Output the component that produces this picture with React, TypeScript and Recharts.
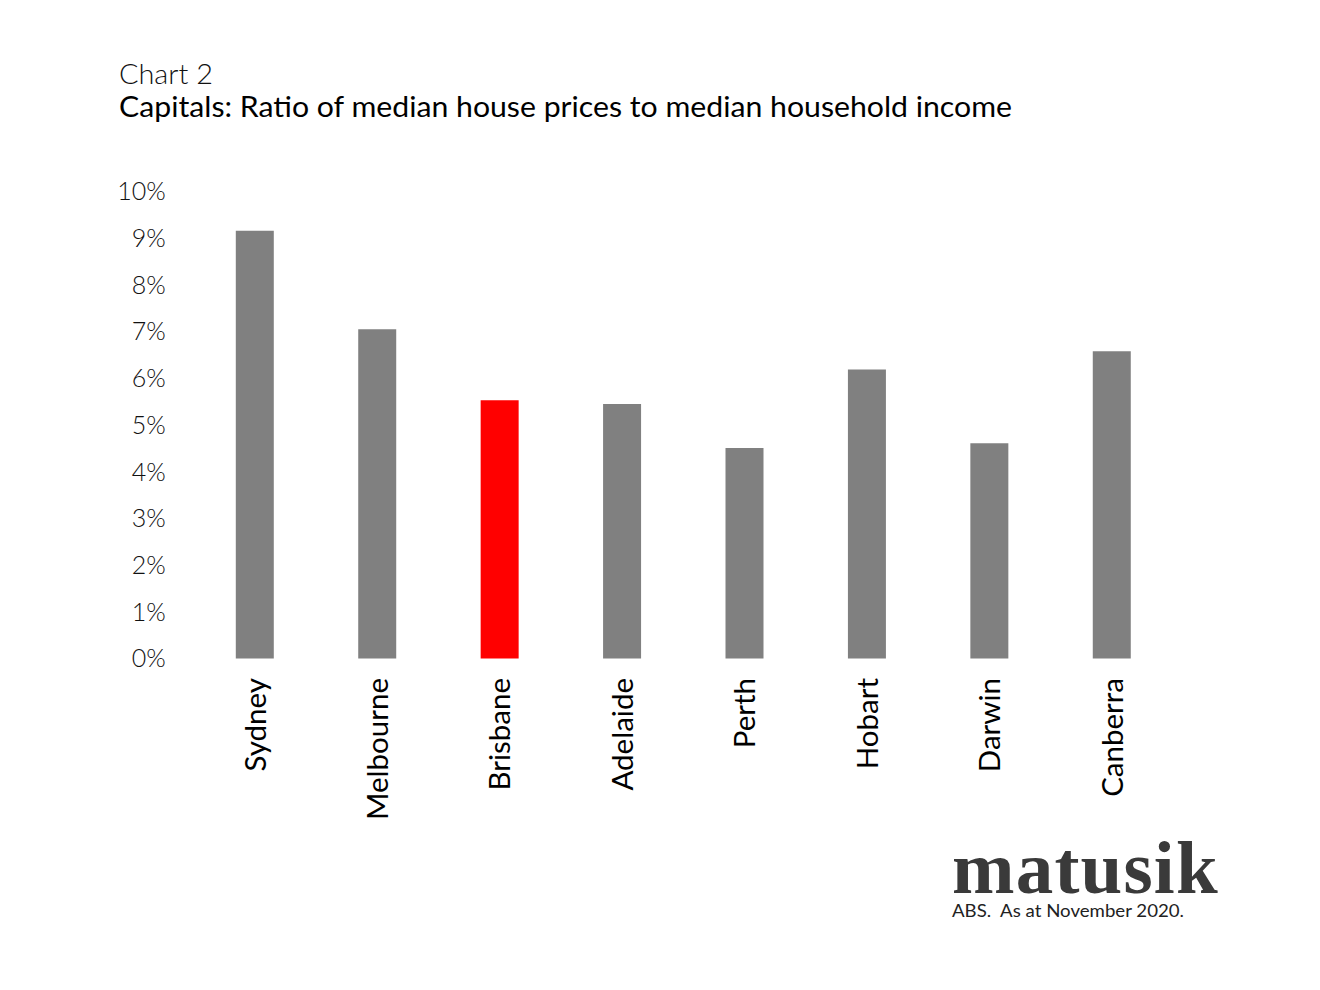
import React from "react";
import { BarChart, Bar, XAxis, YAxis, Cell } from "recharts";

const cities = ["Sydney", "Melbourne", "Brisbane", "Adelaide", "Perth", "Hobart", "Darwin", "Canberra"];
const ratios = [9.16, 7.05, 5.53, 5.45, 4.51, 6.19, 4.61, 6.58];
const highlightCity = "Brisbane";
const yTicks = [0, 1, 2, 3, 4, 5, 6, 7, 8, 9, 10];

const chartTitleSmall = "Chart 2";
const chartTitle = "Capitals: Ratio of median house prices to median household income";
const logoText = "matusik";
const sourceText = "ABS.  As at November 2020.";

const data = cities.map((c, i) => ({ city: c, value: ratios[i] }));

const FONT = "Lato, 'Open Sans', sans-serif";

const CityTick = (props: any) => {
  const { x, y, payload } = props;
  return (
    <text
      x={x}
      y={y}
      transform={`rotate(-90, ${x}, ${y})`}
      textAnchor="end"
      dy="0.36em"
      fontFamily={FONT}
      fontSize={29.5}
      fontWeight={400}
      fill="#000"
    >
      {payload.value}
    </text>
  );
};

export default function App() {
  return (
    <div style={{ position: "absolute", left: 0, top: 0, width: 1320, height: 990, background: "#fff" }}>
      <div style={{ position: "absolute", left: 0, top: 0 }}>
        <BarChart
          width={1320}
          height={990}
          data={data}
          margin={{ top: 191.5, right: 146.8, bottom: 181.5, left: 113.8 }}
          barCategoryGap={0}
        >
          <XAxis
            dataKey="city"
            axisLine={false}
            tickLine={false}
            tickSize={0}
            tickMargin={19.5}
            height={150}
            interval={0}
            tick={<CityTick />}
          />
          <YAxis
            domain={[0, 10]}
            ticks={yTicks}
            interval={0}
            axisLine={false}
            tickLine={false}
            tickSize={0}
            tickMargin={28}
            width={80}
            tickFormatter={(v: number) => `${v}%`}
            tick={{ fontFamily: FONT, fontSize: 25, fontWeight: 300, fill: "#111" }}
          />
          <Bar dataKey="value" barSize={38} isAnimationActive={false}>
            {data.map((d) => (
              <Cell key={d.city} fill={d.city === highlightCity ? "#ff0000" : "#808080"} />
            ))}
          </Bar>
        </BarChart>
      </div>
      <svg
        width={1320}
        height={990}
        style={{ position: "absolute", left: 0, top: 0, pointerEvents: "none" }}
      >
        <text
          x={119}
          y={84}
          fontFamily={FONT}
          fontSize={28}
          fontWeight={300}
          fill="#111"
          textLength={94}
          lengthAdjust="spacingAndGlyphs"
        >
          {chartTitleSmall}
        </text>
        <text
          x={119}
          y={117}
          fontFamily={FONT}
          fontSize={28}
          fontWeight={400}
          fill="#000"
          textLength={893}
          lengthAdjust="spacingAndGlyphs"
        >
          {chartTitle}
        </text>
        <text
          x={952}
          y={917}
          fontFamily={FONT}
          fontSize={16.5}
          fontWeight={400}
          fill="#222"
          textLength={232}
          lengthAdjust="spacingAndGlyphs"
          style={{ whiteSpace: "pre" }}
        >
          {sourceText}
        </text>
      </svg>
      <div
        style={{
          position: "absolute",
          left: 952,
          top: 839.7,
          height: 56,
          fontFamily: "'Liberation Serif', 'DejaVu Serif', serif",
          fontSize: 75,
          lineHeight: "56px",
          fontWeight: 700,
          color: "#3a3a3a",
          letterSpacing: "1.2px",
          whiteSpace: "nowrap",
          overflow: "visible",
        }}
      >
        {logoText}
      </div>
    </div>
  );
}
